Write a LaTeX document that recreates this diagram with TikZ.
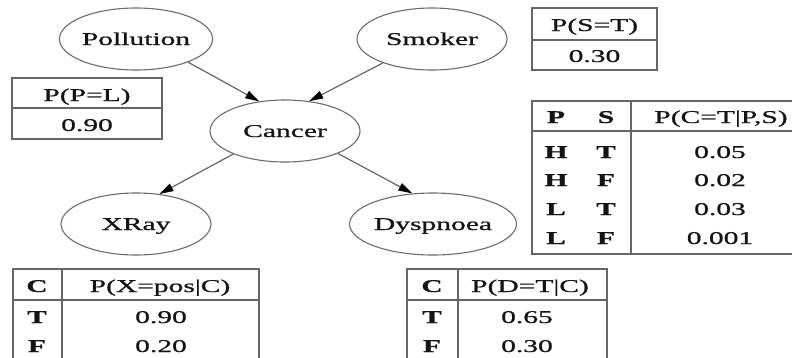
\documentclass[tikz,border=0pt]{standalone}
\usepackage{fontspec}
\setmainfont{Liberation Serif}[UprightFeatures={FakeBold=0.7},BoldFeatures={FakeBold=0.5}]
\usepackage{graphicx}
\usetikzlibrary{shapes.geometric,arrows.meta}
\newcommand\sx[1]{\scalebox{1.64}[1]{#1}}
\begin{document}
\begin{tikzpicture}[x=1pt,y=-1pt,
  every node/.style={font=\fontsize{18}{20}\selectfont, text=black!92},
  var/.style={ellipse, draw=black!58, line width=1.1pt, minimum width=150pt, minimum height=62pt, inner sep=0pt, text height=12pt, text depth=0pt},
  edge/.style={draw=black!60, line width=1.2pt, -{Triangle[length=14pt,width=8pt,color=black,fill=black]}},
  grid/.style={draw=black!60, line width=1.2pt},
  cell/.style={inner sep=0pt, anchor=base}
]
\useasboundingbox (0,0) rectangle (792,357);
\clip (0,0) rectangle (792,357);

% variables
\node[var] (pol) at (136,39) {\sx{Pollution}};
\node[var] (smk) at (432,39) {\sx{Smoker}};
\node[var] (can) at (285,131) {\sx{Cancer}};
\node[var] (xr) at (136,224) {\sx{XRay}};
\node[var] (dys) at (433,224) {\sx{Dyspnoea}};

% edges
\draw[edge] (pol.-24.7) -- (can.131);
\draw[edge] (smk.206) -- (can.51);
\draw[edge] (can.204.8) -- (xr.52.3);
\draw[edge] (can.-23.9) -- (dys.124);

% P(P=L)
\draw[grid] (12,78) rectangle (162,139) (12,108) -- (162,108);
\node[cell] (tpl) at (87,101) {\sx{P(P=L)}};
\node[cell] (tpv) at (87,131) {\sx{0.90}};

% P(S=T)
\draw[grid] (532,8) rectangle (657,70) (532,40) -- (657,40);
\node[cell] (tsl) at (594.5,31) {\sx{P(S=T)}};
\node[cell] (tsv) at (594.5,62) {\sx{0.30}};

% P(C=T|P,S)
\draw[grid] (532,101) rectangle (812,254) (532,131) -- (812,131) (631,101) -- (631,254);
\node[cell] (tch1) at (556,123) {\sx{\textbf{P}}};
\node[cell] (tch2) at (606,123) {\sx{\textbf{S}}};
\node[cell] (tch3) at (721,123) {\sx{P(C=T|P,S)}};
\node[cell] (tc1a) at (556,158) {\sx{\textbf{H}}};
\node[cell] (tc1b) at (606,158) {\sx{\textbf{T}}};
\node[cell] (tc1c) at (720,158) {\sx{0.05}};
\node[cell] (tc2a) at (556,186) {\sx{\textbf{H}}};
\node[cell] (tc2b) at (606,186) {\sx{\textbf{F}}};
\node[cell] (tc2c) at (720,186) {\sx{0.02}};
\node[cell] (tc3a) at (556,215) {\sx{\textbf{L}}};
\node[cell] (tc3b) at (606,215) {\sx{\textbf{T}}};
\node[cell] (tc3c) at (720,215) {\sx{0.03}};
\node[cell] (tc4a) at (556,244) {\sx{\textbf{L}}};
\node[cell] (tc4b) at (606,244) {\sx{\textbf{F}}};
\node[cell] (tc4c) at (720,244) {\sx{0.001}};

% P(X=pos|C)
\draw[grid] (13,269) rectangle (259,375) (13,300) -- (259,300) (62,269) -- (62,375);
\node[cell] (txh1) at (37,292) {\sx{\textbf{C}}};
\node[cell] (txh2) at (160,292) {\sx{P(X=pos|C)}};
\node[cell] (tx1a) at (37,323) {\sx{\textbf{T}}};
\node[cell] (tx1b) at (161,323) {\sx{0.90}};
\node[cell] (tx2a) at (37,352) {\sx{\textbf{F}}};
\node[cell] (tx2b) at (161,352) {\sx{0.20}};

% P(D=T|C)
\draw[grid] (407,269) rectangle (607,375) (407,300) -- (607,300) (458,269) -- (458,375);
\node[cell] (tdh1) at (432,292) {\sx{\textbf{C}}};
\node[cell] (tdh2) at (530,292) {\sx{P(D=T|C)}};
\node[cell] (td1a) at (432,323) {\sx{\textbf{T}}};
\node[cell] (td1b) at (527,323) {\sx{0.65}};
\node[cell] (td2a) at (432,352) {\sx{\textbf{F}}};
\node[cell] (td2b) at (527,352) {\sx{0.30}};
\end{tikzpicture}
\end{document}
